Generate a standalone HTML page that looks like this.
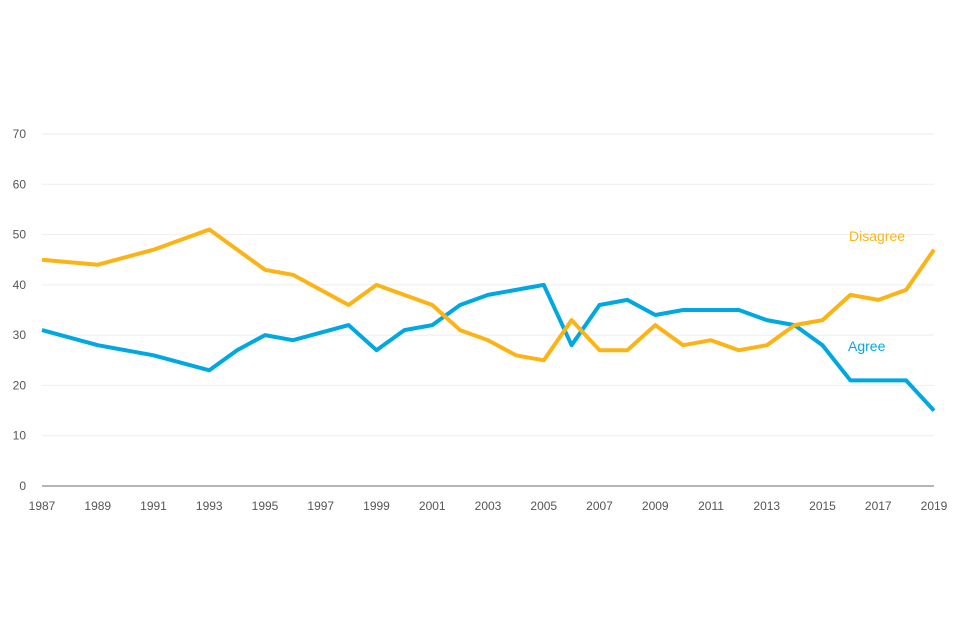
<!DOCTYPE html>
<html><head><meta charset="utf-8"><style>
body{margin:0;background:#fff;}
svg{display:block;font-family:"Liberation Sans",sans-serif;}
</style></head><body>
<svg id="chart" width="960" height="640"></svg>
<script>
const yTicks=[0,10,20,30,40,50,60,70];
const xTicks=[1987,1989,1991,1993,1995,1997,1999,2001,2003,2005,2007,2009,2011,2013,2015,2017,2019];
const disagreeYears=[1987,1989,1991,1993,1995,1996,1998,1999,2001,2002,2003,2004,2005,2006,2007,2008,2009,2010,2011,2012,2013,2014,2015,2016,2017,2018,2019];
const disagreeValues=[45,44,47,51,43,42,36,40,36,31,29,26,25,33,27,27,32,28,29,27,28,32,33,38,37,39,47];
const agreeYears=[1987,1989,1991,1993,1994,1995,1996,1998,1999,2000,2001,2002,2003,2005,2006,2007,2008,2009,2010,2011,2012,2013,2014,2015,2016,2017,2018,2019];
const agreeValues=[31,28,26,23,27,30,29,32,27,31,32,36,38,40,28,36,37,34,35,35,35,33,32,28,21,21,21,15];
const svg=document.getElementById('chart');
const NS='http://www.w3.org/2000/svg';
const x0=42,x1=934,y0=486,y1=134;
const xs=v=>x0+(v-1987)/(2019-1987)*(x1-x0);
const ys=v=>y0-v/70*(y0-y1);
function mk(t,a){const e=document.createElementNS(NS,t);for(const k in a)e.setAttribute(k,a[k]);svg.appendChild(e);return e;}
yTicks.forEach(t=>{
  const l=mk('line',{x1:x0,x2:x1,y1:ys(t),y2:ys(t),stroke:t===0?'#8a8a8a':'#eeeeee','stroke-width':t===0?1.2:1});
  
  
  const tx=mk('text',{x:26,y:ys(t)+4,'text-anchor':'end','font-size':12,fill:'#555'});
  tx.textContent=t;
  
  
});
xTicks.forEach(t=>{
  const tx=mk('text',{x:xs(t),y:510,'text-anchor':'middle','font-size':12,fill:'#555'});
  tx.textContent=t;
  
  
});
function line(years,vals,color,name){
  const d=years.map((y,i)=>(i?'L':'M')+xs(y).toFixed(1)+','+ys(vals[i]).toFixed(1)).join('');
  const p=mk('path',{d:d,fill:'none',stroke:color,'stroke-width':4,'stroke-linejoin':'round'});
  
  
}
line(agreeYears,agreeValues,'#00a8e1','agree-line');
line(disagreeYears,disagreeValues,'#fcb315','disagree-line');
const l1=mk('text',{x:849,y:241,'font-size':14,fill:'#fcb315'});l1.textContent='Disagree';


const l2=mk('text',{x:848,y:351,'font-size':14,fill:'#00a8e1'});l2.textContent='Agree';


</script>
</body></html>
